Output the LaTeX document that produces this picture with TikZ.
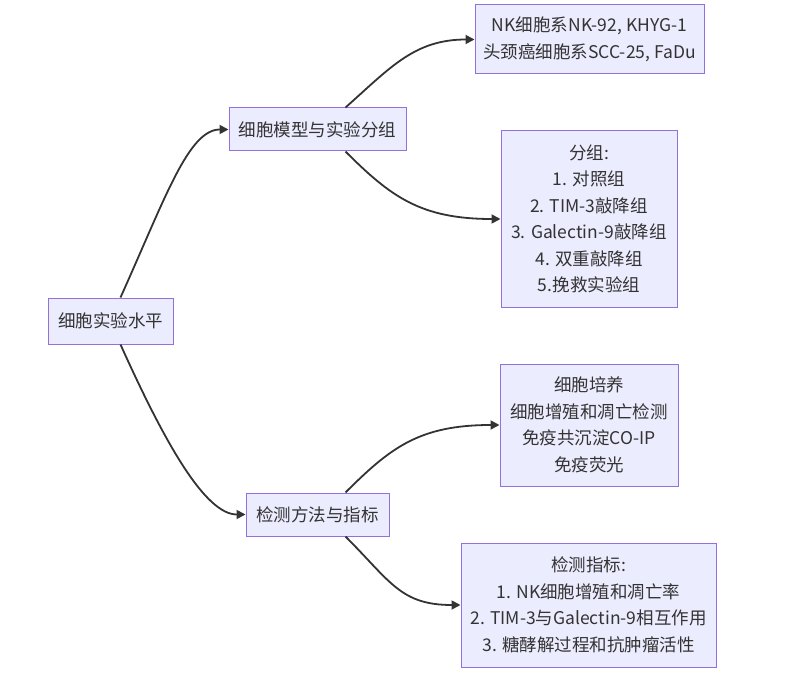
\documentclass[tikz,border=0pt]{standalone}
\usepackage{fontspec}
\setmainfont{Noto Sans CJK SC}
\usetikzlibrary{arrows.meta,calc}
\definecolor{boxfill}{HTML}{ECECFF}
\definecolor{boxline}{HTML}{9370DB}
\definecolor{ink}{HTML}{333333}
\tikzset{
  mbox/.style={draw=boxline, fill=boxfill, line width=1pt, text=ink, align=center,
    inner sep=0pt, font=\fontsize{17.5}{26.5}\selectfont},
  conn/.style={draw=ink, line width=1.8pt, -{Triangle[length=9pt,width=9pt]}}
}
\begin{document}
\begin{tikzpicture}[x=1pt,y=-1pt]
\useasboundingbox (0,0) rectangle (787,679);
\node[mbox, minimum width=125pt, minimum height=46pt] (root) at (110.5,321) {细胞实验水平};
\node[mbox, minimum width=177pt, minimum height=43pt] (A) at (317.5,129.5) {细胞模型与实验分组};
\node[mbox, minimum width=143pt, minimum height=43pt] (B) at (317.5,514.5) {检测方法与指标};
\node[mbox, minimum width=229pt, minimum height=69pt] (A1) at (589.5,39.5) {NK细胞系NK-92, KHYG-1\\头颈癌细胞系SCC-25, FaDu};
\node[mbox, minimum width=176pt, minimum height=176pt] (A2) at (589,219) {分组:\\1. 对照组\\2. TIM-3敲降组\\3. Galectin-9敲降组\\4. 双重敲降组\\5.挽救实验组};
\node[mbox, minimum width=178pt, minimum height=122pt] (B1) at (589,425) {细胞培养\\细胞增殖和凋亡检测\\免疫共沉淀CO-IP\\免疫荧光};
\node[mbox, minimum width=255pt, minimum height=124pt] (B2) at (588.5,605) {检测指标:\\1. NK细胞增殖和凋亡率\\2. TIM-3与Galectin-9相互作用\\3. 糖酵解过程和抗肿瘤活性};
\draw[conn] ($(root.north)+(10,0)$) .. controls +(45,-100) and +(-40,0) .. (A.west);
\draw[conn] ($(root.south)+(10,0)$) .. controls +(45,100) and +(-40,0) .. (B.west);
\draw[conn] ($(A.north)+(28,0)$) .. controls +(45,-40) and +(-60,0) .. (A1.west);
\draw[conn] ($(A.south)+(28,0)$) .. controls +(45,45) and +(-80,0) .. (A2.west);
\draw[conn] ($(B.north)+(28,0)$) .. controls +(45,-45) and +(-80,0) .. (B1.west);
\draw[conn] ($(B.south)+(28,0)$) .. controls +(45,45) and +(-60,0) .. (B2.west);
\end{tikzpicture}
\end{document}
